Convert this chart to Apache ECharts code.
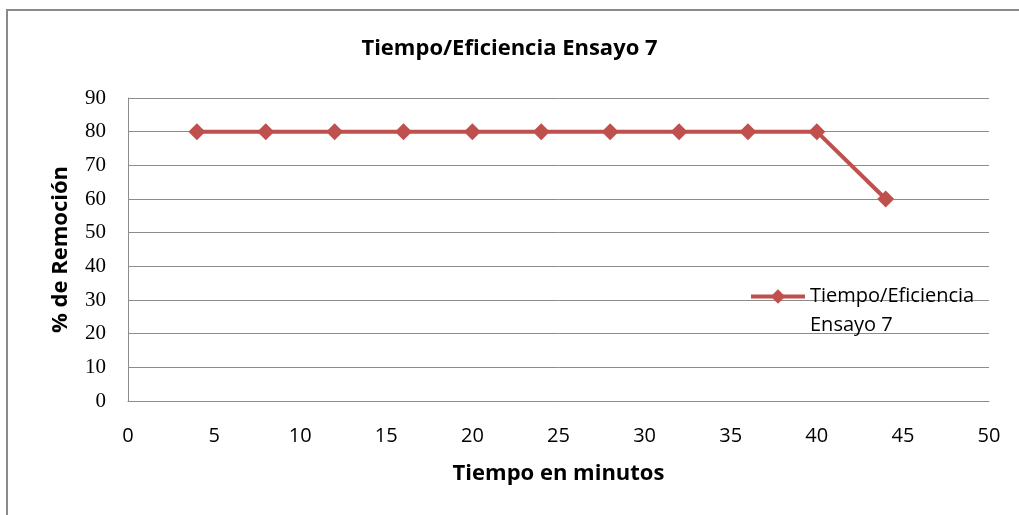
<!DOCTYPE html>
<html>
<head>
<meta charset="utf-8">
<script src="https://cdn.jsdelivr.net/npm/echarts@6/dist/echarts.min.js"></script>
<style>
  html, body { margin: 0; padding: 0; background: #fff; }
  #chart { width: 1019px; height: 515px; }
</style>
</head>
<body>
<div id="chart"></div>
<script>
// Removal efficiency over time, trial 7
const tiempo = [4, 8, 12, 16, 20, 24, 28, 32, 36, 40, 44];
const remocion = [80, 80, 80, 80, 80, 80, 80, 80, 80, 80, 60];
const serieNombre = 'Tiempo/Eficiencia Ensayo 7';
const leyendaLineas = ['Tiempo/Eficiencia', 'Ensayo 7'];
const titulo = 'Tiempo/Eficiencia Ensayo 7';
const ejeX = 'Tiempo en minutos';
const ejeY = '% de Remoción';

const fuente = '"Open Sans", Lato, sans-serif';
const fuenteSerif = '"Liberation Serif", "DejaVu Serif", serif';
const chart = echarts.init(document.getElementById('chart'));

chart.setOption({
  backgroundColor: '#ffffff',
  animation: false,
  title: {
    text: titulo,
    left: 'center',
    top: 33,
    textStyle: { fontFamily: fuente, fontSize: 22, fontWeight: 'bold', color: '#000' }
  },
  graphic: [{
    type: 'rect',
    shape: { x: 7, y: 10, width: 1100, height: 600 },
    style: { fill: 'none', stroke: '#8a8a8a', lineWidth: 2 },
    silent: true
  }],
  legend: {
    left: 744,
    top: 248,
    itemWidth: 54,
    itemHeight: 18,
    itemGap: 4,
    lineStyle: { width: 4 },
    // leading blank line keeps the icon level with the first text line
    formatter: () => '\n' + leyendaLineas.join('\n'),
    textStyle: { fontFamily: fuente, fontSize: 20, color: '#000', lineHeight: 29 }
  },
  grid: { left: 128, right: 30, top: 98, bottom: 114, containLabel: false },
  xAxis: {
    type: 'value',
    min: 0, max: 50, interval: 5,
    name: ejeX,
    nameLocation: 'middle',
    nameGap: 62,
    nameTextStyle: { fontFamily: fuente, fontSize: 22, fontWeight: 'bold', color: '#000' },
    axisLine: { show: true, lineStyle: { color: '#8c8c8c', width: 1 } },
    axisTick: { show: false },
    splitLine: { show: false },
    axisLabel: { fontFamily: fuente, fontSize: 20, color: '#000', margin: 25 }
  },
  yAxis: {
    type: 'value',
    min: 0, max: 90, interval: 10,
    name: ejeY,
    nameLocation: 'middle',
    nameGap: 56,
    nameRotate: 90,
    nameTextStyle: { fontFamily: fuente, fontSize: 22, fontWeight: 'bold', color: '#000' },
    axisLine: { show: true, lineStyle: { color: '#8c8c8c', width: 1 } },
    axisTick: { show: false },
    splitLine: { show: true, lineStyle: { color: '#8c8c8c', width: 1 } },
    axisLabel: { fontFamily: fuenteSerif, fontSize: 21, color: '#000', margin: 22 }
  },
  series: [{
    name: serieNombre,
    type: 'line',
    data: tiempo.map((t, i) => [t, remocion[i]]),
    symbol: 'diamond',
    symbolSize: 17,
    lineStyle: { color: '#C0504D', width: 4 },
    itemStyle: { color: '#C0504D' }
  }]
});
</script>
</body>
</html>
